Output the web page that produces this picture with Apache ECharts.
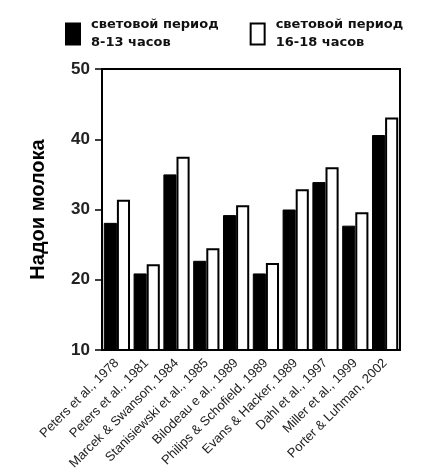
<!DOCTYPE html>
<html>
<head>
<meta charset="utf-8">
<script src="https://cdn.jsdelivr.net/npm/echarts@6/dist/echarts.min.js"></script>
<style>
  html, body { margin: 0; padding: 0; background: #fff; }
  #chart { width: 446px; height: 475px; }
</style>
</head>
<body>
<div id="chart"></div>
<script>
// исследования
const studies = [
    'Peters et al., 1978', 'Peters et al., 1981', 'Marcek & Swanson, 1984',
    'Stanisiewski et al., 1985', 'Bilodeau e al., 1989', 'Philips & Schofield, 1989',
    'Evans & Hacker, 1989', 'Dahl et al., 1997', 'Miller et al., 1999', 'Porter & Luhman, 2002'
];
// световой период 8-13 часов
const shortDay = [28.1, 20.9, 35.0, 22.7, 29.2, 20.9, 30.0, 33.9, 27.7, 40.6];
// световой период 16-18 часов
const longDay = [31.4, 22.2, 37.5, 24.5, 30.6, 22.4, 32.9, 36.0, 29.6, 43.1];
const yTicks = [10, 50, 10]; // min, max, interval

const chart = echarts.init(document.getElementById('chart'));

option = {
    animation: false,
    legend: {
        left: 60,
        top: 11,
        icon: 'rect',
        itemWidth: 14,
        itemHeight: 21,
        itemGap: 31,
        textStyle: {
            fontFamily: 'DejaVu Sans',
            fontWeight: 'bold',
            fontSize: 13,
            lineHeight: 18,
            color: '#111',
            padding: [0, 0, 0, 6]
        },
        data: ['световой период\n8-13 часов', 'световой период\n16-18 часов']
    },
    grid: {
        left: 102,
        right: 46,
        top: 69,
        bottom: 125,
        show: true,
        borderColor: '#000',
        borderWidth: 2
    },
    xAxis: {
        type: 'category',
        data: studies,
        axisLine: { lineStyle: { color: '#000', width: 2 } },
        axisTick: { alignWithLabel: true, length: 6, lineStyle: { color: '#000', width: 1.5 } },
        axisLabel: {
            interval: 0,
            rotate: 45,
            fontFamily: 'Liberation Sans',
            fontSize: 13,
            color: '#222',
            margin: 11,
            padding: [0, 0, 0, 0]
        }
    },
    yAxis: {
        type: 'value',
        min: yTicks[0],
        max: yTicks[1],
        interval: yTicks[2],
        name: 'Надои молока',
        nameLocation: 'middle',
        nameGap: 54,
        nameTextStyle: {
            fontFamily: 'Liberation Sans',
            fontWeight: 'bold',
            fontSize: 20,
            color: '#000'
        },
        splitLine: { show: false },
        axisLine: { show: true, lineStyle: { color: '#000', width: 2 } },
        axisTick: { show: true, length: 7, lineStyle: { color: '#000', width: 1.5 } },
        axisLabel: {
            fontFamily: 'Liberation Sans',
            fontWeight: 'bold',
            fontSize: 17,
            color: '#222',
            margin: 12
        }
    },
    series: [
        {
            name: 'световой период\n8-13 часов',
            type: 'bar',
            data: shortDay,
            barGap: '0%',
            barCategoryGap: '12%',
            itemStyle: { color: '#000', borderColor: '#000', borderWidth: 1 }
        },
        {
            name: 'световой период\n16-18 часов',
            type: 'bar',
            data: longDay,
            itemStyle: { color: '#fff', borderColor: '#000', borderWidth: 2 }
        }
    ]
};

chart.setOption(option);
</script>
</body>
</html>
